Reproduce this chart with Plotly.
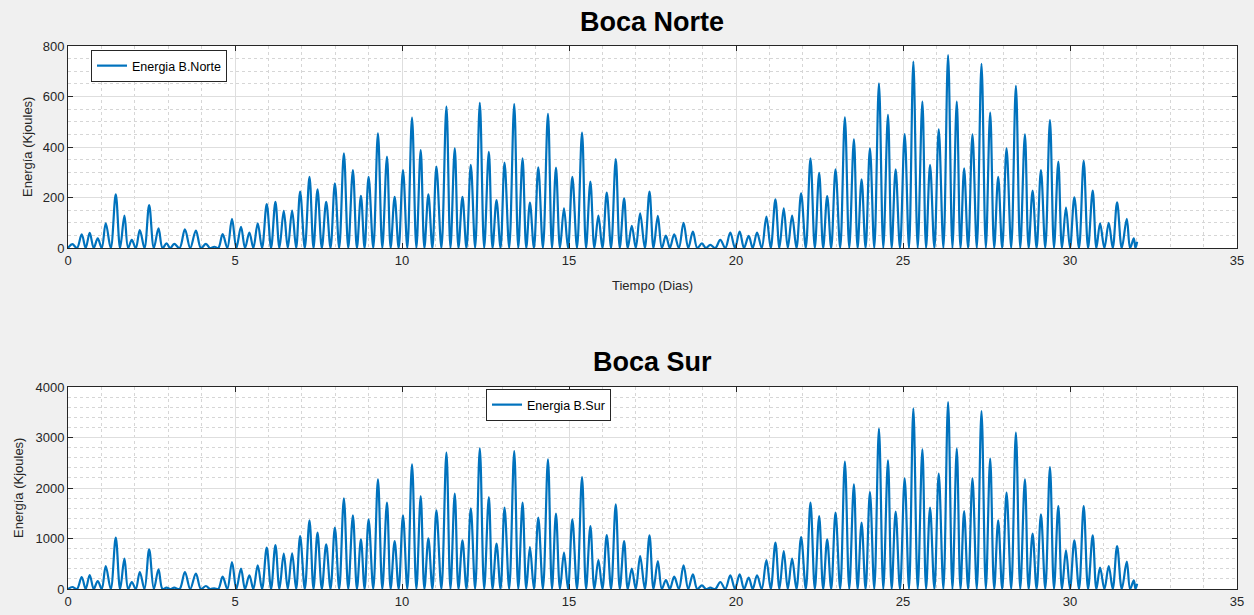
import plotly.graph_objects as go

# tiempos de los picos (dias), comunes a ambas bocas
t_pico = [0.13, 0.41, 0.65, 0.89, 1.13, 1.43, 1.69, 1.91, 2.15, 2.43, 2.71, 2.95, 3.18, 3.50, 3.83, 4.13, 4.38,
          4.63, 4.91, 5.18, 5.43, 5.68, 5.95, 6.21, 6.46, 6.71, 6.95, 7.23, 7.47, 7.73, 7.99, 8.26, 8.53, 8.77,
          9.00, 9.28, 9.55, 9.78, 10.03, 10.30, 10.56,
          10.79, 11.03, 11.33, 11.58, 11.81, 12.06, 12.33, 12.60, 12.83, 13.07, 13.36, 13.61, 13.83, 14.08, 14.37,
          14.61, 14.85, 15.10, 15.39, 15.64, 15.88, 16.13, 16.40, 16.65, 16.88, 17.13, 17.41, 17.66, 17.90, 18.15,
          18.43, 18.71, 18.98, 19.23, 19.53, 19.83, 20.11, 20.38, 20.63, 20.91,
          21.18, 21.43, 21.68, 21.95, 22.23, 22.49, 22.73, 22.98, 23.26, 23.53, 23.76, 24.01, 24.28, 24.55, 24.78,
          25.05, 25.31, 25.58, 25.81, 26.07, 26.35, 26.61, 26.83, 27.08, 27.35, 27.61, 27.85, 28.10, 28.38, 28.65,
          28.88, 29.13, 29.40, 29.65, 29.88, 30.13, 30.41, 30.68, 30.90, 31.16, 31.41, 31.70, 31.91, 32.01]

# tiempos de los valles (energia ~0), uno antes de cada pico
t_valle = [0.00, 0.27, 0.53, 0.77, 1.01, 1.28, 1.56, 1.80, 2.03, 2.29, 2.57, 2.83, 3.06, 3.34, 3.66, 3.98, 4.25,
           4.50, 4.77, 5.04, 5.30, 5.55, 5.81, 6.08, 6.33, 6.58, 6.83, 7.09, 7.35, 7.60, 7.86, 8.12, 8.39, 8.65,
           8.88, 9.14, 9.41, 9.66, 9.90, 10.16, 10.43,
           10.67, 10.91, 11.18, 11.45, 11.69, 11.93, 12.19, 12.46, 12.71, 12.95, 13.21, 13.48, 13.72, 13.95, 14.22,
           14.49, 14.73, 14.97, 15.24, 15.51, 15.76, 16.00, 16.26, 16.52, 16.76, 17.00, 17.27, 17.53, 17.78, 18.02,
           18.29, 18.57, 18.84, 19.10, 19.38, 19.68, 19.97, 20.24, 20.50, 20.77,
           21.04, 21.30, 21.55, 21.81, 22.09, 22.36, 22.61, 22.85, 23.12, 23.39, 23.64, 23.88, 24.14, 24.41, 24.66,
           24.91, 25.18, 25.44, 25.69, 25.94, 26.21, 26.48, 26.72, 26.95, 27.21, 27.48, 27.73, 27.97, 28.24, 28.51,
           28.76, 29.00, 29.26, 29.52, 29.76, 30.00, 30.27, 30.54, 30.79, 31.03, 31.28, 31.55, 31.80, 31.96]
e_valle = 0

# energia en los picos (Kjoules)
e_norte = [15, 54, 60, 38, 98, 212, 128, 32, 71, 170, 78, 18, 16, 74, 69, 16, 5, 55, 115, 84, 61, 98, 174, 183,
           147, 148, 223, 282, 232, 183, 256, 375, 309, 207, 282, 454, 362, 203, 309, 516, 388,
           212, 322, 560, 395, 203, 329, 575, 381, 190, 338, 570, 355, 180, 319, 531, 318, 157, 282, 457, 263,
           128, 219, 352, 197, 88, 137, 223, 127, 49, 54, 100, 65, 18, 12, 32, 61, 65, 48, 61, 124,
           193, 157, 128, 216, 355, 298, 206, 311, 517, 430, 272, 395, 652, 527, 311, 451, 738, 580, 329, 470,
           764, 580, 315, 450, 729, 536, 282, 395, 642, 450, 227, 309, 507, 342, 160, 201, 345, 227, 98, 100,
           181, 115, 38, 25]

e_sur = [40, 238, 277, 158, 455, 1016, 600, 139, 337, 785, 389, 26, 26, 337, 304, 59, 15, 244, 535, 403, 271,
         469, 818, 871, 700, 706, 1049, 1360, 1115, 884, 1214, 1795, 1459, 983, 1379, 2171, 1709, 950, 1459,
         2468, 1841,
         1003, 1558, 2700, 1888, 964, 1597, 2785, 1822, 898, 1610, 2732, 1709, 832, 1412, 2567, 1492, 719, 1379,
         2218, 1247, 574, 1069, 1676, 950, 403, 653, 1063, 554, 178, 244, 469, 290, 73, 26, 139, 271, 290, 224,
         271, 574,
         917, 752, 601, 1030, 1709, 1445, 983, 1511, 2521, 2072, 1313, 1921, 3175, 2548, 1531, 2191, 3577, 2765,
         1610, 2284, 3703, 2779, 1544, 2191, 3524, 2581, 1360, 1907, 3095, 2171, 1096, 1478, 2416, 1643, 766,
         964, 1643, 1063, 422, 455, 851, 541, 172, 106]


def serie(picos):
    xs, ys = [], []
    for tv, tp, e in zip(t_valle, t_pico, picos):
        xs += [tv, tp]
        ys += [e_valle, e]
    return xs, ys


azul = '#0072BD'
fuente = 'Liberation Sans, Arial, sans-serif'
gris = '#262626'

x1, y1 = serie(e_norte)
x2, y2 = serie(e_sur)

fig = go.Figure()
fig.add_trace(go.Scatter(x=x1, y=y1, mode='lines', name='Energia B.Norte', showlegend=True,
                         line=dict(color=azul, width=2.2, shape='spline', smoothing=1.0),
                         xaxis='x', yaxis='y', legend='legend'))
fig.add_trace(go.Scatter(x=x2, y=y2, mode='lines', name='Energia B.Sur', showlegend=True,
                         line=dict(color=azul, width=2.2, shape='spline', smoothing=1.0),
                         xaxis='x2', yaxis='y2', legend='legend2'))

W, H = 1254, 615


def eje_x(anchor):
    return dict(domain=[68 / W, 1237 / W], range=[0, 35], dtick=5, anchor=anchor, automargin=False,
                showline=True, mirror='ticks', linecolor=gris, linewidth=1,
                ticks='inside', ticklen=5, tickcolor=gris,
                showgrid=True, gridcolor='#dedede', gridwidth=1, zeroline=False,
                minor=dict(dtick=1, showgrid=True, gridcolor='#d6d6d6', griddash='dot', ticks=''),
                tickfont=dict(family=fuente, size=13, color=gris))


def eje_y(dom, top, paso, menor, anchor):
    return dict(domain=dom, range=[0, top], dtick=paso, anchor=anchor, automargin=False,
                showline=True, mirror='ticks', linecolor=gris, linewidth=1,
                ticks='inside', ticklen=5, tickcolor=gris,
                showgrid=True, gridcolor='#dedede', gridwidth=1, zeroline=False,
                minor=dict(dtick=menor, showgrid=True, gridcolor='#d6d6d6', griddash='dot', ticks=''),
                tickfont=dict(family=fuente, size=13, color=gris))


def anot(texto, x, y, size, angulo=0, negrita=False, color=gris):
    return dict(text=f'<b>{texto}</b>' if negrita else texto, x=x / W, y=(H - y) / H,
                xref='paper', yref='paper', xanchor='center', yanchor='middle',
                textangle=angulo, showarrow=False, font=dict(family=fuente, size=size, color=color))


fig.update_layout(
    width=W, height=H, autosize=False,
    margin=dict(l=0, r=0, t=0, b=0, pad=0, autoexpand=False),
    paper_bgcolor='#f0f0f0', plot_bgcolor='white',
    xaxis=eje_x('y'),
    yaxis=eje_y([(H - 248) / H, (H - 46) / H], 800, 200, 50, 'x'),
    xaxis2=eje_x('y2'),
    yaxis2=eje_y([(H - 589) / H, (H - 387) / H], 4000, 1000, 200, 'x2'),
    legend=dict(x=91 / W, y=(H - 50) / H, xanchor='left', yanchor='top', xref='paper', yref='paper',
                bgcolor='white', bordercolor=gris, borderwidth=1,
                font=dict(family=fuente, size=12.5, color='black')),
    legend2=dict(x=486 / W, y=(H - 389) / H, xanchor='left', yanchor='top', xref='paper', yref='paper',
                 bgcolor='white', bordercolor=gris, borderwidth=1,
                 font=dict(family=fuente, size=12.5, color='black')),
    annotations=[
        anot('Boca Norte', 652, 22, 27, negrita=True, color='black'),
        anot('Boca Sur', 652, 362, 27, negrita=True, color='black'),
        anot('Tiempo (Dias)', 652, 285, 13),
        anot('Energía (Kjoules)', 27, 147, 13, angulo=-90),
        anot('Energía (Kjoules)', 18, 488, 13, angulo=-90),
    ],
)

fig.write_html("out.html", config={'displayModeBar': False},
               post_script="document.body.style.margin='0';document.body.style.overflow='hidden';")
